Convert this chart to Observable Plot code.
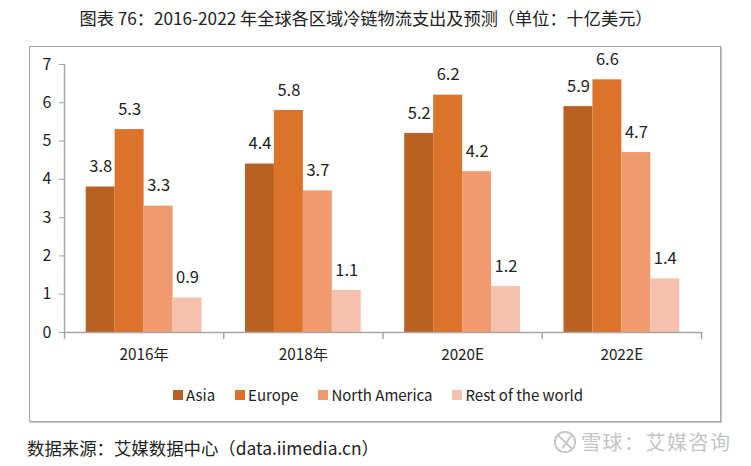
<!DOCTYPE html>
<html>
<head>
<meta charset="utf-8">
<script src="https://cdn.jsdelivr.net/npm/d3@7"></script>
<script src="https://cdn.jsdelivr.net/npm/@observablehq/plot@0.6"></script>
<style>
  body { margin: 0; background: #fff; font-family: "Noto Sans CJK SC", "Noto Sans", sans-serif; color: #222; width: 751px; height: 466px; overflow: hidden; position: relative; }
  #title { width: 732px; height: 46px; line-height: 36px; text-align: center; font-size: 17.2px; }
  #frame { position: absolute; left: 29px; top: 46px; width: 690px; height: 374px; border: 1px solid #a6a6a6; box-shadow: 1px 1px 1px #ccc; }
  #chart { position: absolute; left: 0; top: -12px; }
  #legend { position: absolute; top: 331px; left: 143px; }
  #legend span { margin-right: 20px !important; }
  #legend svg { margin-right: 3px !important; }
  #source { position: absolute; left: 27px; top: 436px; font-size: 17.4px; line-height: 24px; }
  #mark { position: absolute; left: 553px; top: 429px; font-size: 20px; line-height: 24px; color: #c4c4c4; letter-spacing: 1.5px; display: flex; align-items: center; gap: 4px; }
</style>
</head>
<body>
<div id="title">图表 76：2016-2022 年全球各区域冷链物流支出及预测（单位：十亿美元）</div>
<div id="frame"><div id="chart"></div><div id="legend"></div></div>
<div id="source">数据来源：艾媒数据中心（data.iimedia.cn）</div>
<div id="mark"><svg width="24" height="26" viewBox="0 0 26 26" fill="none" stroke="#c4c4c4" stroke-width="2"><circle cx="13" cy="13" r="11"/><path d="M6 6 L20 20 M20 6 L10 20"/></svg>雪球：艾媒咨询</div>
<script>
const periods = ['2016年', '2018年', '2020E', '2022E'];
const series = ['Asia', 'Europe', 'North America', 'Rest of the world'];
const colors = ['#b96122', '#dd732b', '#f09a70', '#f5c0ad'];
const asia = [3.8, 4.4, 5.2, 5.9];
const europe = [5.3, 5.8, 6.2, 6.6];
const northAmerica = [3.3, 3.7, 4.2, 4.7];
const rest = [0.9, 1.1, 1.2, 1.4];
const yTicks = [0, 1, 2, 3, 4, 5, 6, 7];

const values = [asia, europe, northAmerica, rest];
const data = series.flatMap((s, i) =>
  periods.map((p, j) => ({period: p, series: s, value: values[i][j]}))
);

const axisGray = '#a6a6a6';
const line = {draw(ctx, l) { ctx.moveTo(0, 0); ctx.lineTo(0, -l); }};
const marginTop = 29, marginBottom = 40;
const height = 337;

const chart = Plot.plot({
  width: 689,
  height,
  marginTop,
  marginBottom,
  marginLeft: 34,
  marginRight: 18,
  style: {fontFamily: '"Noto Sans CJK SC", "Noto Sans", sans-serif', color: '#222', background: 'transparent'},
  fx: {domain: periods, padding: 0, label: null, round: false},
  x: {domain: series, paddingInner: 0, paddingOuter: 0.75, axis: null, round: false},
  y: {domain: [0, 7], label: null},
  color: {domain: series, range: colors},
  marks: [
    Plot.barY(data, {fx: 'period', x: 'series', y: 'value', fill: 'series'}),
    Plot.text(data, {
      fx: 'period', x: 'series', y: 'value', text: d => d.value.toFixed(1),
      dy: -20, fontSize: 16.5, fill: '#222'
    }),
    Plot.ruleY([0], {stroke: axisGray, strokeWidth: 1.5}),
    // group separators under the baseline
    Plot.vector(periods, {fx: d => d, frameAnchor: 'bottom-left', length: 6, rotate: 180, shape: line, stroke: axisGray, anchor: 'start'}),
    Plot.vector(periods.slice(-1), {fx: d => d, frameAnchor: 'bottom-right', length: 6, rotate: 180, shape: line, stroke: axisGray, anchor: 'start'}),
    // y axis line, only on the first group
    Plot.vector(periods.slice(0, 1), {fx: d => d, frameAnchor: 'bottom-left', length: height - marginTop - marginBottom, shape: line, stroke: axisGray, strokeWidth: 1.5, anchor: 'start'}),
    Plot.axisY({ticks: yTicks, tickSize: 5, tickPadding: 8, stroke: axisGray, fill: '#222', fontSize: 16, label: null, tickFormat: d => d}),
    Plot.axisFx({anchor: 'bottom', tickSize: 0, tickPadding: 17, fontSize: 15.3, fill: '#222', label: null})
  ]
});
document.getElementById('chart').append(chart);

const legend = chart.legend('color', {swatchWidth: 10, swatchHeight: 10, style: {fontSize: '15px', fontFamily: '"Noto Sans CJK SC", "Noto Sans", sans-serif', color: '#222'}});
document.getElementById('legend').append(legend);
</script>
</body>
</html>
